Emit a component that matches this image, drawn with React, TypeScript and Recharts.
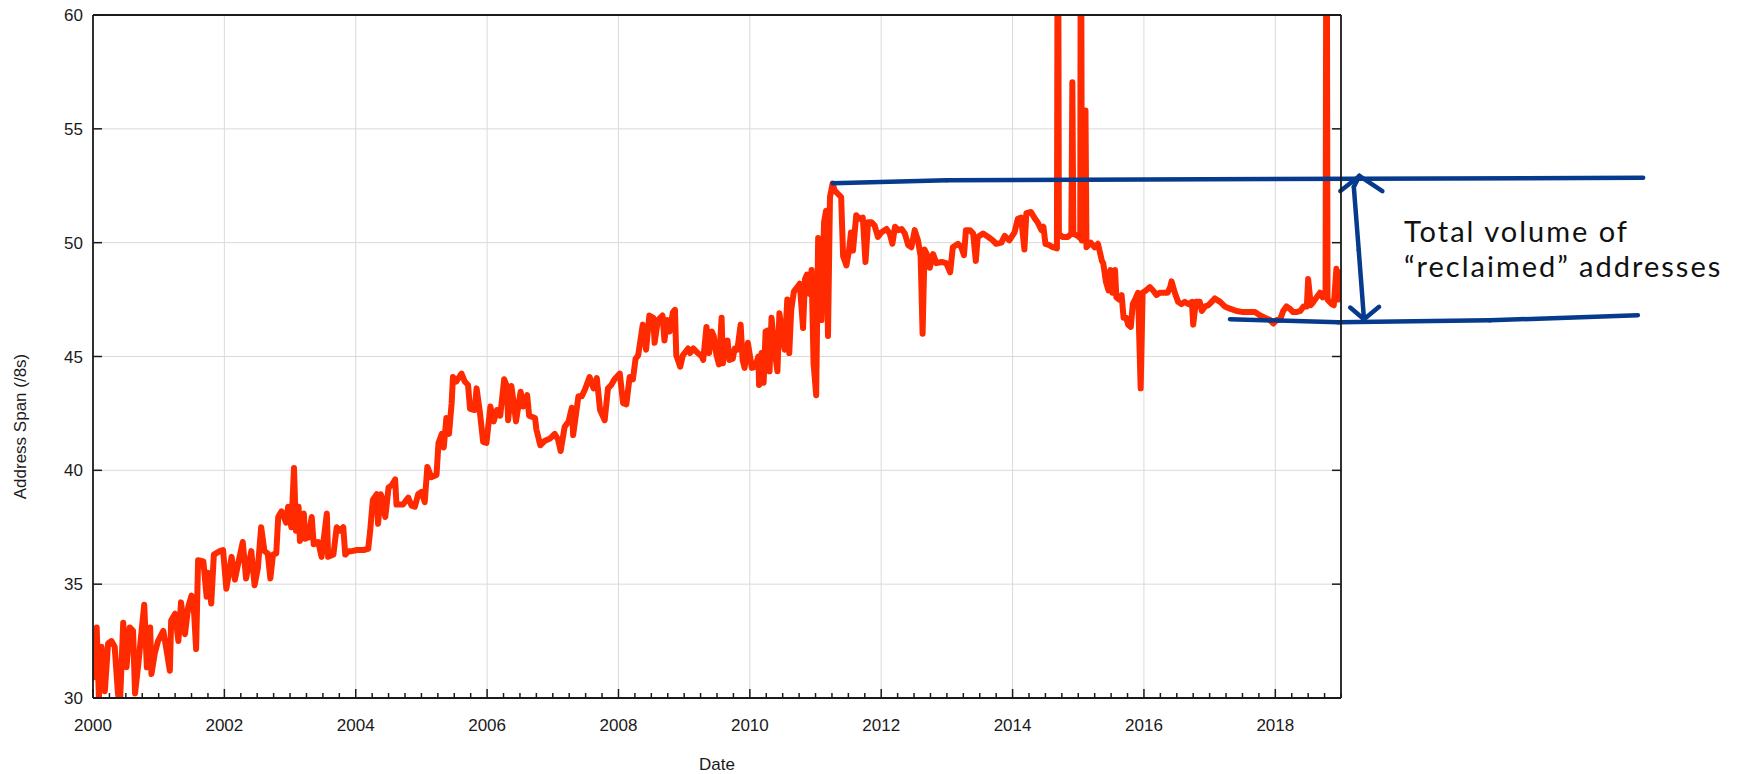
import { LineChart, Line, XAxis, YAxis, CartesianGrid, ReferenceLine } from 'recharts';

// [year, address span in /8s]
const span2000to2002: [number, number][] = [
  [2000.0, 30.9], [2000.056, 33.1], [2000.09, 30.0], [2000.13, 32.25], [2000.18, 30.3], [2000.23, 32.4],
  [2000.28, 32.5], [2000.33, 32.25], [2000.38, 30.2], [2000.41, 29.7], [2000.46, 33.3], [2000.51, 31.35],
  [2000.56, 33.1], [2000.61, 32.95], [2000.64, 30.2], [2000.69, 31.5], [2000.74, 32.95], [2000.78, 34.1],
  [2000.82, 31.35], [2000.87, 33.1], [2000.89, 31.05], [2000.94, 31.95], [2000.99, 32.5], [2001.07, 32.95],
  [2001.12, 32.1], [2001.17, 31.2], [2001.19, 33.4], [2001.25, 33.7], [2001.3, 32.5], [2001.34, 34.2],
  [2001.4, 32.8], [2001.45, 34.0], [2001.5, 34.5], [2001.54, 33.7], [2001.57, 32.15], [2001.6, 36.05],
  [2001.68, 36.0], [2001.73, 34.45], [2001.75, 35.5], [2001.8, 34.15], [2001.84, 36.3], [2001.93, 36.45],
  [2001.98, 36.5], [2002.03, 34.8], [2002.11, 36.2], [2002.16, 35.2], [2002.21, 35.9], [2002.28, 36.85],
  [2002.33, 35.25], [2002.41, 36.45], [2002.46, 34.95], [2002.51, 35.7], [2002.56, 37.5], [2002.61, 36.45],
  [2002.66, 36.35], [2002.7, 35.25], [2002.74, 36.3], [2002.79, 36.35], [2002.82, 37.95], [2002.87, 38.2],
  [2002.94, 37.7], [2002.97, 38.4], [2003.02, 37.5],
];

const span2003to2005: [number, number][] = [
  [2003.06, 40.1], [2003.09, 37.35], [2003.13, 38.4], [2003.15, 36.9], [2003.21, 38.1], [2003.23, 37.0],
  [2003.28, 37.05], [2003.33, 37.95], [2003.36, 36.75], [2003.43, 36.85], [2003.48, 36.2], [2003.56, 38.1],
  [2003.58, 36.2], [2003.66, 36.3], [2003.71, 37.5], [2003.76, 37.35], [2003.81, 37.5], [2003.84, 36.3],
  [2003.89, 36.45], [2003.94, 36.45], [2004.02, 36.5], [2004.12, 36.5], [2004.19, 36.55], [2004.22, 37.35],
  [2004.26, 38.7], [2004.32, 38.95], [2004.34, 37.65], [2004.38, 38.95], [2004.41, 38.7], [2004.45, 37.95],
  [2004.5, 39.25], [2004.55, 39.35], [2004.6, 39.6], [2004.62, 38.5], [2004.72, 38.5], [2004.8, 38.8],
  [2004.85, 38.45], [2004.9, 38.4], [2004.95, 38.95], [2005.0, 39.05], [2005.05, 38.6], [2005.09, 40.15],
  [2005.15, 39.7], [2005.23, 39.8], [2005.26, 41.2], [2005.31, 41.6], [2005.34, 41.0], [2005.38, 42.3],
  [2005.42, 41.6], [2005.46, 42.95], [2005.48, 44.1], [2005.53, 43.9], [2005.61, 44.25], [2005.66, 43.9],
  [2005.71, 43.75], [2005.74, 42.7], [2005.81, 42.65], [2005.84, 43.6], [2005.89, 42.55], [2005.94, 41.25],
  [2005.99, 41.2],
];

const span2006to2008: [number, number][] = [
  [2006.05, 42.8], [2006.1, 42.15], [2006.15, 42.65], [2006.2, 42.4], [2006.26, 44.0], [2006.3, 43.7],
  [2006.32, 42.2], [2006.37, 43.7], [2006.44, 42.15], [2006.51, 43.45], [2006.55, 42.8], [2006.61, 43.3],
  [2006.64, 42.4], [2006.73, 42.3], [2006.75, 41.8], [2006.81, 41.1], [2006.88, 41.3], [2006.96, 41.4],
  [2007.03, 41.6], [2007.08, 41.35], [2007.12, 40.85], [2007.18, 41.9], [2007.24, 42.15], [2007.29, 42.75],
  [2007.31, 41.55], [2007.39, 43.25], [2007.44, 43.25], [2007.49, 43.55], [2007.56, 44.1], [2007.62, 43.6],
  [2007.67, 44.05], [2007.72, 42.65], [2007.79, 42.2], [2007.84, 43.6], [2007.89, 43.75], [2007.94, 44.0],
  [2008.02, 44.25], [2008.07, 42.95], [2008.12, 42.9], [2008.17, 44.1], [2008.22, 44.0], [2008.26, 44.9],
  [2008.3, 45.05], [2008.37, 46.4], [2008.42, 45.3], [2008.47, 46.8], [2008.53, 46.7], [2008.55, 45.6],
  [2008.6, 46.6], [2008.67, 46.8], [2008.7, 45.7], [2008.74, 46.6], [2008.78, 46.1], [2008.83, 46.95],
  [2008.86, 47.05], [2008.88, 45.05], [2008.94, 44.55], [2008.98, 45.05], [2009.06, 45.35],
];

const span2009to2011: [number, number][] = [
  [2009.09, 45.15], [2009.14, 45.35], [2009.19, 45.2], [2009.27, 45.0], [2009.29, 44.85], [2009.34, 46.3],
  [2009.38, 45.15], [2009.42, 46.1], [2009.45, 45.9], [2009.49, 45.1], [2009.53, 44.65], [2009.57, 46.7],
  [2009.59, 44.7], [2009.62, 45.65], [2009.66, 45.7], [2009.69, 44.85], [2009.74, 44.9], [2009.77, 45.35],
  [2009.81, 45.3], [2009.86, 46.4], [2009.89, 44.85], [2009.92, 44.5], [2009.97, 45.6], [2010.03, 44.5],
  [2010.08, 44.55], [2010.13, 45.0], [2010.14, 43.75], [2010.18, 45.15], [2010.21, 43.85], [2010.24, 46.1],
  [2010.28, 46.15], [2010.3, 44.35], [2010.33, 46.7], [2010.38, 45.2], [2010.42, 44.35], [2010.45, 46.9],
  [2010.48, 46.25], [2010.53, 45.3], [2010.57, 47.5], [2010.6, 45.15], [2010.63, 47.05], [2010.67, 47.85],
  [2010.71, 48.0], [2010.76, 48.2], [2010.81, 46.25], [2010.84, 48.4], [2010.87, 48.6], [2010.91, 47.75],
  [2010.94, 48.8], [2010.97, 44.7], [2011.01, 43.3], [2011.04, 50.2], [2011.09, 46.6], [2011.13, 50.9],
  [2011.16, 51.4], [2011.19, 45.9], [2011.22, 52.0], [2011.26, 52.6], [2011.29, 52.3], [2011.34, 52.15],
  [2011.39, 52.0], [2011.42, 49.4], [2011.47, 49.0], [2011.51, 49.65], [2011.54, 50.45], [2011.57, 49.65],
  [2011.62, 51.2], [2011.67, 51.05], [2011.72, 51.1], [2011.76, 49.15], [2011.8, 50.9], [2011.85, 50.9],
  [2011.9, 50.75], [2011.95, 50.25], [2012.0, 50.45], [2012.08, 50.6],
];

// values above 60 run off the top of the plot
const span2012to2015: [number, number][] = [
  [2012.13, 50.4], [2012.17, 49.95], [2012.21, 50.7], [2012.26, 50.55], [2012.31, 50.6], [2012.36, 50.4],
  [2012.41, 49.9], [2012.46, 49.8], [2012.51, 50.55], [2012.56, 50.1], [2012.6, 49.4], [2012.63, 46.0],
  [2012.66, 49.7], [2012.71, 49.4], [2012.74, 48.9], [2012.79, 49.5], [2012.84, 49.1], [2012.92, 49.15],
  [2012.99, 49.1], [2013.05, 48.7], [2013.09, 49.8], [2013.17, 49.95], [2013.22, 49.8], [2013.26, 49.45],
  [2013.29, 50.55], [2013.35, 50.55], [2013.4, 50.4], [2013.44, 49.2], [2013.47, 50.25], [2013.55, 50.4],
  [2013.63, 50.25], [2013.7, 50.1], [2013.75, 49.95], [2013.83, 50.0], [2013.88, 50.3], [2013.95, 50.1],
  [2014.03, 50.45], [2014.08, 51.05], [2014.13, 51.1], [2014.18, 49.7], [2014.21, 51.3], [2014.28, 51.35],
  [2014.33, 51.1], [2014.38, 50.9], [2014.44, 50.55], [2014.47, 50.7], [2014.5, 49.95], [2014.55, 49.9],
  [2014.61, 49.8], [2014.675, 49.75], [2014.69, 70], [2014.705, 50.4], [2014.76, 50.25], [2014.84, 50.25],
  [2014.895, 50.4], [2014.91, 57.05], [2014.925, 50.4], [2014.99, 50.3], [2015.03, 50.2], [2015.04, 70],
  [2015.055, 50.1], [2015.1, 50.1], [2015.11, 55.8], [2015.125, 49.8], [2015.19, 50.0], [2015.25, 49.8],
  [2015.3, 49.95],
];

const span2015to2018: [number, number][] = [
  [2015.36, 49.2], [2015.38, 49.1], [2015.42, 48.3], [2015.46, 47.9], [2015.49, 48.8], [2015.52, 47.8],
  [2015.56, 48.8], [2015.58, 47.6], [2015.62, 47.5], [2015.66, 47.7], [2015.69, 46.7], [2015.73, 46.7],
  [2015.76, 46.4], [2015.8, 46.3], [2015.83, 47.3], [2015.88, 47.6], [2015.91, 47.8], [2015.95, 43.6],
  [2015.98, 47.8], [2016.03, 47.9], [2016.09, 48.05], [2016.14, 47.9], [2016.19, 47.7], [2016.24, 47.8],
  [2016.29, 47.8], [2016.36, 47.8], [2016.4, 48.05], [2016.42, 48.3], [2016.47, 47.8], [2016.52, 47.4],
  [2016.57, 47.3], [2016.62, 47.4], [2016.68, 47.3], [2016.73, 47.4], [2016.75, 46.4], [2016.79, 47.4],
  [2016.85, 47.4], [2016.88, 47.0], [2016.93, 47.2], [2016.98, 47.25], [2017.03, 47.4], [2017.08, 47.55],
  [2017.16, 47.4], [2017.23, 47.2], [2017.31, 47.1], [2017.41, 47.0], [2017.51, 46.95], [2017.61, 46.95],
  [2017.69, 46.95], [2017.77, 46.8], [2017.84, 46.7], [2017.92, 46.6], [2017.97, 46.45], [2018.02, 46.6],
  [2018.07, 46.6], [2018.12, 47.0], [2018.17, 47.2], [2018.22, 47.1], [2018.27, 46.95], [2018.32, 46.95],
  [2018.38, 47.0], [2018.43, 47.2], [2018.48, 47.2], [2018.5, 48.4], [2018.54, 47.25], [2018.58, 47.4],
  [2018.63, 47.6], [2018.68, 47.8], [2018.72, 47.6], [2018.765, 47.9], [2018.78, 70], [2018.795, 47.5],
  [2018.86, 47.3], [2018.89, 47.25], [2018.93, 48.85], [2018.96, 47.5], [2018.99, 48.7],
];

const labelYears = [2000, 2002, 2004, 2006, 2008, 2010, 2012, 2014, 2016, 2018];
const gridYears = [2002, 2004, 2006, 2008, 2010, 2012, 2014, 2016, 2018];
const gridSpans = [35, 40, 45, 50, 55];
const spanTicks = [30, 35, 40, 45, 50, 55, 60];
const quarterTicks = Array.from({ length: 77 }, (_, i) => 2000 + i / 4);

// hand-drawn annotation, in [year, span] units
const upperMark: [number, number][] = [[2011.26, 52.61], [2013.0, 52.74], [2023.6, 52.85]];
const lowerMark: [number, number][] = [[2017.31, 46.64], [2018.96, 46.5], [2021.27, 46.59], [2023.52, 46.81]];
const arrowShaft: [number, number][] = [[2019.28, 52.93], [2019.195, 52.45], [2019.27, 49.67], [2019.35, 46.64]];
const arrowTop: [number, number][] = [[2018.99, 52.27], [2019.28, 52.93], [2019.63, 52.26]];
const arrowBottom: [number, number][] = [[2019.14, 47.15], [2019.35, 46.64], [2019.58, 47.18]];
const noteLines = ['Total volume of', '“reclaimed” addresses'];

const series = [
  ...span2000to2002,
  ...span2003to2005,
  ...span2006to2008,
  ...span2009to2011,
  ...span2012to2015,
  ...span2015to2018,
].map(([t, v]) => ({ t, v }));

const ink = '#1a1a1a';
const navy = '#063a8c';
const tickFont = { fontFamily: '"Liberation Sans", Arial, sans-serif', fontSize: 17, fill: ink };

function BottomTick({ x, y, payload }: any) {
  const major = labelYears.includes(payload.value);
  return (
    <g>
      <line x1={x} x2={x} y1={y} y2={y - (major ? 9 : 5)} stroke={ink} strokeWidth={1.5} />
      {major && (
        <text x={x} y={y + 33} textAnchor="middle" {...tickFont}>
          {payload.value}
        </text>
      )}
    </g>
  );
}

function TopTick({ x, y, payload }: any) {
  const major = labelYears.includes(payload.value);
  return <line x1={x} x2={x} y1={y} y2={y + (major ? 9 : 5)} stroke={ink} strokeWidth={1.5} />;
}

function LeftTick({ x, y, payload }: any) {
  return (
    <g>
      <line x1={x} x2={x + 9} y1={y} y2={y} stroke={ink} strokeWidth={1.5} />
      <text x={x - 10} y={y + 6} textAnchor="end" {...tickFont}>
        {payload.value}
      </text>
    </g>
  );
}

function RightTick({ x, y }: any) {
  return <line x1={x} x2={x - 9} y1={y} y2={y} stroke={ink} strokeWidth={1.5} />;
}

function segmentsOf(points: [number, number][], key: string) {
  return points.slice(1).map((p, i) => (
    <ReferenceLine
      key={`${key}-${i}`}
      xAxisId="bottom"
      yAxisId="left"
      segment={[
        { x: points[i][0], y: points[i][1] },
        { x: p[0], y: p[1] },
      ]}
      stroke={navy}
      strokeWidth={4.5}
      strokeLinecap="round"
      ifOverflow="visible"
    />
  ));
}

export default function App() {
  return (
    <div style={{ position: 'absolute', left: 0, top: 0, width: 1743, height: 774, background: '#fff' }}>
      <LineChart width={1743} height={774} data={series} margin={{ top: 0, right: 0, bottom: 0, left: 0 }}>
        <CartesianGrid
          xAxisId="bottom"
          yAxisId="left"
          stroke="#dadada"
          strokeWidth={1}
          verticalValues={gridYears}
          horizontalValues={gridSpans}
        />
        <XAxis
          xAxisId="bottom"
          dataKey="t"
          type="number"
          domain={[2000, 2019]}
          allowDataOverflow
          ticks={quarterTicks}
          interval={0}
          tickSize={0}
          tickMargin={0}
          tickLine={false}
          tick={BottomTick}
          height={76}
          axisLine={{ stroke: ink, strokeWidth: 1.8 }}
          label={({ viewBox }: any) => (
            <text
              x={viewBox.x + viewBox.width / 2}
              y={viewBox.y + 72}
              textAnchor="middle"
              {...tickFont}
            >
              Date
            </text>
          )}
        />
        <XAxis
          xAxisId="top"
          orientation="top"
          type="number"
          domain={[2000, 2019]}
          allowDataOverflow
          ticks={quarterTicks}
          interval={0}
          tickSize={0}
          tickMargin={0}
          tickLine={false}
          tick={TopTick}
          height={15}
          axisLine={{ stroke: ink, strokeWidth: 1.8 }}
        />
        <YAxis
          yAxisId="left"
          type="number"
          domain={[30, 60]}
          allowDataOverflow
          ticks={spanTicks}
          interval={0}
          tickSize={0}
          tickMargin={0}
          tickLine={false}
          tick={LeftTick}
          width={93}
          axisLine={{ stroke: ink, strokeWidth: 1.8 }}
          label={({ viewBox }: any) => {
            const cx = viewBox.x + 20;
            const cy = viewBox.y + viewBox.height / 2 + 70;
            return (
              <text x={cx} y={cy + 6} textAnchor="middle" transform={`rotate(-90 ${cx} ${cy})`} {...tickFont}>
                Address Span (/8s)
              </text>
            );
          }}
        />
        <YAxis
          yAxisId="right"
          orientation="right"
          type="number"
          domain={[30, 60]}
          allowDataOverflow
          ticks={spanTicks}
          interval={0}
          tickSize={0}
          tickMargin={0}
          tickLine={false}
          tick={RightTick}
          width={402}
          axisLine={{ stroke: ink, strokeWidth: 1.8 }}
        />
        <Line
          xAxisId="bottom"
          yAxisId="left"
          type="linear"
          dataKey="v"
          stroke="#ff2a00"
          strokeWidth={6}
          strokeLinejoin="round"
          strokeLinecap="round"
          dot={false}
          activeDot={false}
          isAnimationActive={false}
        />
        {segmentsOf(upperMark, 'upper')}
        {segmentsOf(lowerMark, 'lower')}
        {segmentsOf(arrowShaft, 'shaft')}
        {segmentsOf(arrowTop, 'top')}
        {segmentsOf(arrowBottom, 'bottom')}
      </LineChart>
      {noteLines.map((line, i) => (
        <div
          key={line}
          style={{
            position: 'absolute',
            left: 1404,
            top: 213 + i * 35,
            height: 35,
            fontFamily: 'Lato, "Noto Sans", sans-serif',
            fontSize: 29,
            lineHeight: '35px',
            letterSpacing: 2,
            color: '#111',
            whiteSpace: 'nowrap',
          }}
        >
          {line}
        </div>
      ))}
    </div>
  );
}
